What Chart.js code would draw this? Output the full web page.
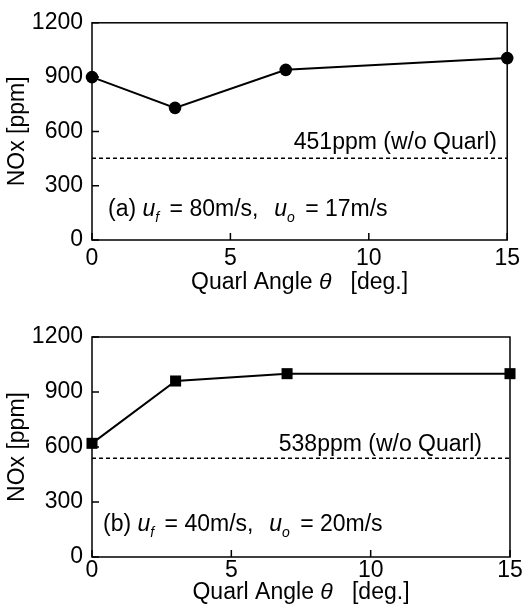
<!DOCTYPE html>
<html>
<head>
<meta charset="utf-8">
<script src="https://cdn.jsdelivr.net/npm/chart.js@4/dist/chart.umd.min.js"></script>
<style>
html,body{margin:0;padding:0;background:#fff;}
#wrap{position:relative;width:525px;height:610px;overflow:hidden;}
.c{position:absolute;left:0;}
</style>
</head>
<body>
<div id="wrap">
  <div class="c" style="top:0;width:525px;height:300px;"><canvas id="ca"></canvas></div>
  <div class="c" style="top:300px;width:525px;height:310px;"><canvas id="cb"></canvas></div>
</div>
<script>
// ---- data ----
const angles = [0, 3, 7, 15];
const noxA = [900, 730, 940, 1005];
const noxB = [620, 960, 1000, 1000];
const baselineA = 451;
const baselineB = 538;
const xTicks = [0, 5, 10, 15];
const yTicks = [0, 300, 600, 900, 1200];
const yTitle = 'NOx [ppm]';
const xTitleParts = ['Quarl Angle ', '\u03B8', '   [deg.]'];
const baseLabelA = '451ppm (w/o Quarl)';
const baseLabelB = '538ppm (w/o Quarl)';
const caseA = ['(a) ', 'u', 'f', ' = 80m/s,  ', 'u', 'o', ' = 17m/s'];
const caseB = ['(b) ', 'u', 'f', ' = 40m/s,  ', 'u', 'o', ' = 20m/s'];

const FONT = '"Liberation Sans", Arial, Helvetica, sans-serif';
const FS = 23;

function decorPlugin(cfg) {
  return {
    id: 'decor',
    afterDraw(chart) {
      const ctx = chart.ctx;
      const a = chart.chartArea;
      const xs = chart.scales.x, ys = chart.scales.y;
      ctx.save();
      // frame
      ctx.strokeStyle = '#000';
      ctx.lineWidth = 1.5;
      ctx.strokeRect(a.left, a.top, a.right - a.left, a.bottom - a.top);
      // inward ticks
      ctx.beginPath();
      yTicks.forEach(v => {
        const y = ys.getPixelForValue(v);
        ctx.moveTo(a.left, y); ctx.lineTo(a.left + 7, y);
      });
      xTicks.forEach(v => {
        const x = xs.getPixelForValue(v);
        ctx.moveTo(x, a.bottom); ctx.lineTo(x, a.bottom - 7);
      });
      ctx.stroke();
      ctx.fillStyle = '#000';
      ctx.textBaseline = 'alphabetic';
      // x title with italic theta
      const fN = FS + 'px ' + FONT;
      const fI = 'italic ' + FS + 'px ' + FONT;
      const fonts = [fN, fI, fN];
      let widths = xTitleParts.map((t, i) => { ctx.font = fonts[i]; return ctx.measureText(t).width; });
      let total = widths.reduce((s, w) => s + w, 0);
      let x = (a.left + a.right) / 2 - total / 2;
      xTitleParts.forEach((t, i) => { ctx.font = fonts[i]; ctx.fillText(t, x, cfg.xTitleBase); x += widths[i]; });
      // baseline label
      ctx.font = fN;
      ctx.textAlign = 'right';
      ctx.fillText(cfg.baseLabel, cfg.baseLabelRight, ys.getPixelForValue(cfg.baseline) - cfg.baseLabelGap);
      // case label
      ctx.textAlign = 'left';
      x = a.left + cfg.caseLeft;
      const by = a.bottom - cfg.caseGap;
      const parts = cfg.caseText;
      const sub = 'italic 14px ' + FONT;
      // [font, baseline shift, extra gap after]
      const sty = [[fN, 0, 0], [fI, 0, 0], [sub, 6, 4], [fN, 0, 3], [fI, 0, 0], [sub, 6, 4], [fN, 0, 0]];
      parts.forEach((t, i) => {
        ctx.font = sty[i][0];
        ctx.fillText(t, x, by + sty[i][1]);
        x += ctx.measureText(t).width + sty[i][2];
      });
      ctx.restore();
    }
  };
}

function makeChart(id, values, baseline, pointStyle, radius, cfg) {
  return new Chart(document.getElementById(id), {
    type: 'line',
    data: {
      datasets: [
        {
          data: angles.map((a, i) => ({x: a, y: values[i]})),
          borderColor: '#000', backgroundColor: '#000',
          borderWidth: 2, pointStyle: pointStyle, pointRadius: radius,
          pointBorderWidth: 0, pointBackgroundColor: '#000', tension: 0, clip: false
        },
        {
          data: [{x: xTicks[0], y: baseline}, {x: xTicks[xTicks.length - 1], y: baseline}],
          borderColor: '#000', borderWidth: 1.5, borderDash: [4, 3], pointRadius: 0, tension: 0
        }
      ]
    },
    options: {
      responsive: true, maintainAspectRatio: false, animation: false,
      layout: {padding: {left: 0, top: cfg.padTop, right: 15, bottom: 0}},
      plugins: {legend: {display: false}, tooltip: {enabled: false}},
      scales: {
        x: {
          type: 'linear', min: 0, max: 15,
          afterBuildTicks: s => { s.ticks = xTicks.map(v => ({value: v})); },
          afterFit: s => { s.height = cfg.xHeight; },
          grid: {display: false, drawTicks: false},
          border: {display: false},
          ticks: {color: '#000', font: {family: FONT, size: FS}, padding: cfg.xTickPad, maxRotation: 0,
                  callback: v => String(v)}
        },
        y: {
          type: 'linear', min: 0, max: 1200,
          afterBuildTicks: s => { s.ticks = yTicks.map(v => ({value: v})); },
          afterFit: s => { s.width = 92; },
          grid: {display: false, drawTicks: false},
          border: {display: false},
          ticks: {color: '#000', font: {family: FONT, size: FS}, padding: 9, callback: v => String(v)},
          title: {display: true, text: yTitle, color: '#000', font: {family: FONT, size: 23}, padding: {top: 4, bottom: 0}}
        }
      }
    },
    plugins: [decorPlugin(cfg)]
  });
}

makeChart('ca', noxA, baselineA, 'circle', 6.3, {
  padTop: 20, xHeight: 60, xTickPad: 5, xTitleBase: 289,
  baseline: baselineA, baseLabel: baseLabelA, baseLabelRight: 497, baseLabelGap: 9,
  caseText: caseA, caseLeft: 16, caseGap: 24
});
makeChart('cb', noxB, baselineB, 'rect', 7.8, {
  padTop: 37, xHeight: 53, xTickPad: 0, xTitleBase: 299,
  baseline: baselineB, baseLabel: baseLabelB, baseLabelRight: 482, baseLabelGap: 7,
  caseText: caseB, caseLeft: 11, caseGap: 26
});
</script>
</body>
</html>
